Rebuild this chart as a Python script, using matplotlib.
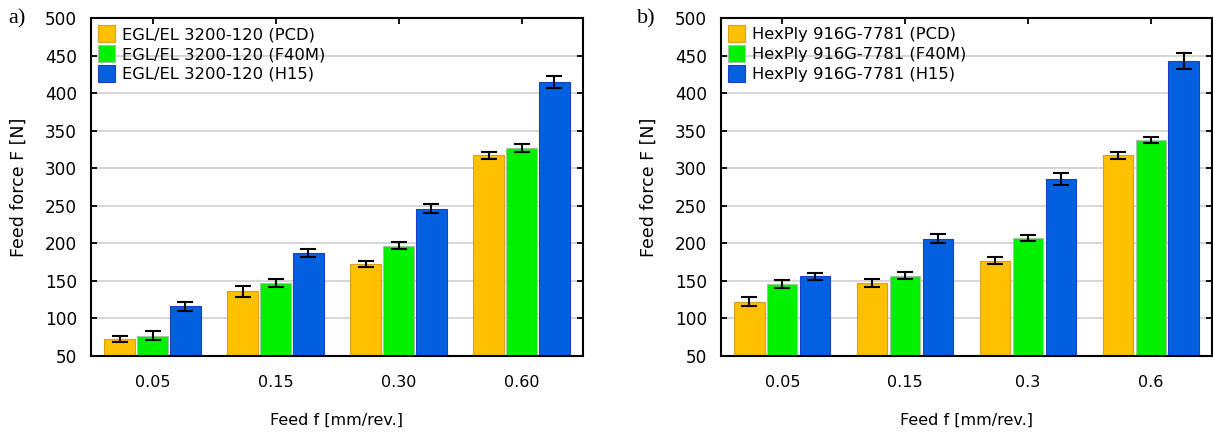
import numpy as np
from matplotlib import pyplot as plt

feeds_a = ["0.05", "0.15", "0.30", "0.60"]
feeds_b = ["0.05", "0.15", "0.3", "0.6"]
tools = ["PCD", "F40M", "H15"]

# panel a) EGL/EL 3200-120
egl_pcd = [72, 136, 172, 317]
egl_f40m = [77, 147, 197, 327]
egl_h15 = [116, 187, 246, 415]
egl_pcd_err = [4, 7, 4, 5]
egl_f40m_err = [6, 5, 5, 5]
egl_h15_err = [6, 5, 6, 8]

# panel b) HexPly 916G-7781
hex_pcd = [122, 147, 177, 317]
hex_f40m = [146, 157, 207, 338]
hex_h15 = [156, 206, 285, 443]
hex_pcd_err = [6, 5, 5, 5]
hex_f40m_err = [5, 5, 4, 4]
hex_h15_err = [5, 6, 8, 11]

colors = ["#FFC000", "#00F000", "#0060E0"]
edges = ["#D9A020", "#A0C8A0", "#2040C0"]

plt.rcParams["font.family"] = ["DejaVu Sans"]
plt.rcParams["font.size"] = 11.5

fig = plt.figure(figsize = (12.13, 4.32), dpi = 100)
ax_a = fig.add_axes([91 / 1213, 76 / 432, 492 / 1213, 338 / 432])
ax_b = fig.add_axes([721 / 1213, 76 / 432, 491 / 1213, 338 / 432])


def draw(ax, labels, series, errors, material):
    x = np.arange(len(labels))
    width = 0.245
    step = 0.268
    for i, (vals, errs) in enumerate(zip(series, errors)):
        ax.bar(x + (i - 1) * step, vals, width, bottom = 0, color = colors[i],
               edgecolor = edges[i], linewidth = 0.8,
               label = f"{material} ({tools[i]})", zorder = 2)
        ax.errorbar(x + (i - 1) * step, vals, yerr = errs, fmt = "none",
                    ecolor = "black", elinewidth = 1.5, capsize = 5.5,
                    capthick = 1.5, zorder = 3)
    ax.set_xlim(-0.5, 3.5)
    ax.set_ylim(50, 500)
    ax.set_yticks(range(50, 501, 50))
    ax.set_xticks(x)
    ax.set_xticklabels(labels)
    ax.yaxis.grid(True, color = "#d0d0d0", linewidth = 1.2, zorder = 0)
    ax.set_axisbelow(True)
    for s in ax.spines.values():
        s.set_linewidth(1.5)
    ax.tick_params(direction = "in", length = 4, width = 1.3, top = True,
                   right = True)
    ax.tick_params(axis = "x", pad = 14, labelsize = 11.5)
    ax.tick_params(axis = "y", pad = 10, labelsize = 12.2)
    ax.set_xlabel("Feed f [mm/rev.]", fontsize = 11.5, labelpad = 16)
    ax.set_ylabel("Feed force F [N]", fontsize = 12.5, labelpad = 12)
    ax.legend(loc = "upper left", frameon = False, handlelength = 1.0,
              handleheight = 1.15, handletextpad = 0.45, labelspacing = 0.2,
              borderaxespad = 0.3, borderpad = 0.15, fontsize = 11.8)


draw(ax_a, feeds_a, [egl_pcd, egl_f40m, egl_h15],
     [egl_pcd_err, egl_f40m_err, egl_h15_err], "EGL/EL 3200-120")
draw(ax_b, feeds_b, [hex_pcd, hex_f40m, hex_h15],
     [hex_pcd_err, hex_f40m_err, hex_h15_err], "HexPly 916G-7781")

fig.text(8 / 1213, 1 - 19 / 432, "a)", family = "Liberation Serif", fontsize = 16, va = "center")
fig.text(637 / 1213, 1 - 19 / 432, "b)", family = "Liberation Serif", fontsize = 16, va = "center")

fig.savefig("out.png", dpi = 100)
